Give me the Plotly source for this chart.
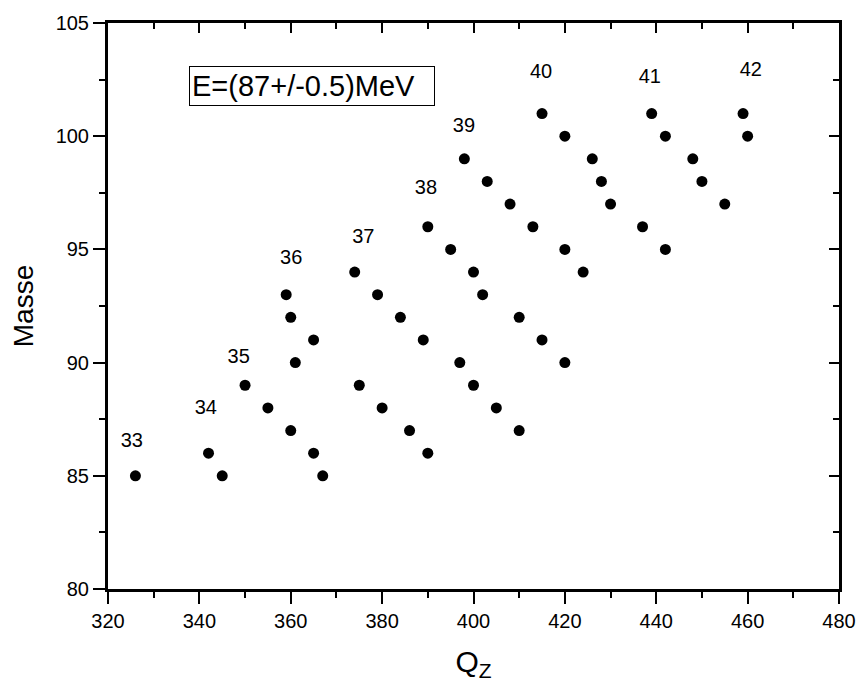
import plotly.graph_objects as go

# Nuclide positions: Q_Z value and mass number
qz = [326, 342, 345, 350, 355, 360, 365, 367,
      359, 360, 365, 361,
      374, 379, 384, 389, 375, 380, 386, 390,
      390, 395, 400, 402, 410, 415, 420, 397, 400, 405, 410,
      398, 403, 408, 413, 420, 424,
      415, 420, 426, 428, 430, 437, 442,
      439, 442, 448, 450, 455,
      459, 460]
masse = [85, 86, 85, 89, 88, 87, 86, 85,
         93, 92, 91, 90,
         94, 93, 92, 91, 89, 88, 87, 86,
         96, 95, 94, 93, 92, 91, 90, 90, 89, 88, 87,
         99, 98, 97, 96, 95, 94,
         101, 100, 99, 98, 97, 96, 95,
         101, 100, 99, 98, 97,
         101, 100]

# Charge number labels and where they sit
z_labels = ["33", "34", "35", "36", "37", "38", "39", "40", "41", "42"]
z_label_x = [325.2, 341.4, 348.6, 360.1, 375.9, 389.6, 397.9, 414.8, 438.6, 460.7]
z_label_y = [86.5, 87.95, 90.2, 94.56, 95.5, 97.65, 100.4, 102.8, 102.55, 102.9]

energy_text = "E=(87+/-0.5)MeV"

FONT = "Arial, Liberation Sans, sans-serif"

fig = go.Figure()
fig.add_trace(go.Scatter(
    x=qz, y=masse, mode="markers",
    marker=dict(size=11, color="black", line=dict(width=0)),
    showlegend=False, hoverinfo="x+y",
))
fig.add_trace(go.Scatter(
    x=z_label_x, y=z_label_y, mode="text", text=z_labels,
    textfont=dict(family=FONT, size=20, color="black"),
    showlegend=False, hoverinfo="skip",
))
# empty trace so the mirrored top/right axes get drawn
fig.add_trace(go.Scatter(x=[None], y=[None], xaxis="x2", yaxis="y2",
                         showlegend=False, hoverinfo="skip"))

axis_common = dict(
    showgrid=False, zeroline=False, showline=True, linecolor="black",
    linewidth=3, tickcolor="black", tickwidth=2,
    tickfont=dict(family=FONT, size=20, color="black"),
)

fig.update_layout(
    width=868, height=690,
    margin=dict(l=108, r=20, t=19, b=101),
    paper_bgcolor="white", plot_bgcolor="white",
    font=dict(family=FONT, color="black"),
    xaxis=dict(
        range=[320, 480], dtick=20, tick0=320, ticks="outside", ticklen=12,
        minor=dict(dtick=10, ticks="outside", ticklen=6, tickwidth=2, tickcolor="black"),
        title=dict(text="Q<sub>Z</sub>", font=dict(family=FONT, size=30), standoff=20),
        **axis_common,
    ),
    yaxis=dict(
        range=[80, 105], dtick=5, tick0=80, ticks="outside", ticklen=12,
        minor=dict(dtick=2.5, ticks="outside", ticklen=6, tickwidth=2, tickcolor="black"),
        title=dict(text="Masse", font=dict(family=FONT, size=28), standoff=14),
        **axis_common,
    ),
    xaxis2=dict(
        overlaying="x", side="top", matches="x", range=[320, 480], dtick=20, tick0=320,
        ticks="inside", ticklen=10, showticklabels=False,
        minor=dict(dtick=10, ticks="inside", ticklen=6, tickwidth=2, tickcolor="black"),
        **axis_common,
    ),
    yaxis2=dict(
        overlaying="y", side="right", matches="y", range=[80, 105], dtick=5, tick0=80,
        ticks="inside", ticklen=10, showticklabels=False,
        minor=dict(dtick=2.5, ticks="inside", ticklen=6, tickwidth=2, tickcolor="black"),
        **axis_common,
    ),
    annotations=[dict(
        x=337.8, y=102.2, xref="x", yref="y", xanchor="left", yanchor="middle",
        text=energy_text, showarrow=False, align="left",
        width=240, height=34,
        font=dict(family=FONT, size=29, color="black"),
        bordercolor="black", borderwidth=1, borderpad=2, bgcolor="white",
    )],
)

fig.write_html("out.html")
